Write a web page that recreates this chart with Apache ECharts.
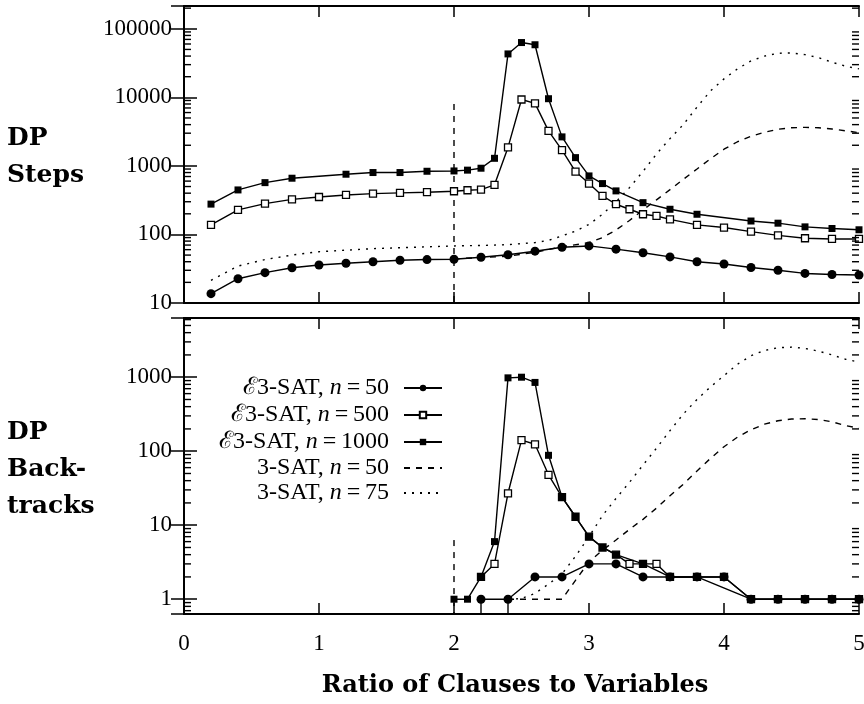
<!DOCTYPE html>
<html>
<head>
<meta charset="utf-8">
<script src="https://cdn.jsdelivr.net/npm/echarts@6/dist/echarts.min.js"></script>
<style>
  html, body { margin: 0; padding: 0; background: #fff; }
  #chart { width: 864px; height: 704px; }
</style>
</head>
<body>
<div id="chart"></div>
<script>
// ---- data ----
// DP steps (top panel)
const e50StepsX = [0.2,0.4,0.6,0.8,1.0,1.2,1.4,1.6,1.8,2.0,2.2,2.4,2.6,2.8,3.0,3.2,3.4,3.6,3.8,4.0,4.2,4.4,4.6,4.8,5.0];
const e50Steps  = [13.7,22.6,27.7,32.7,35.9,38,40,42,43,43.4,46.5,50.5,57,65,68,61,54,47,40,37,33,30,27,26,25.6];

const e500StepsX = [0.2,0.4,0.6,0.8,1.0,1.2,1.4,1.6,1.8,2.0,2.1,2.2,2.3,2.4,2.5,2.6,2.7,2.8,2.9,3.0,3.1,3.2,3.3,3.4,3.5,3.6,3.8,4.0,4.2,4.4,4.6,4.8,5.0];
const e500Steps  = [138,228,282,325,352,377,394,404,413,427,441,451,530,1860,9300,8150,3240,1700,826,552,365,276,233,197,186,166,138,126,110,97,88,86,86];

const e1000StepsX = [0.2,0.4,0.6,0.8,1.2,1.4,1.6,1.8,2.0,2.1,2.2,2.3,2.4,2.5,2.6,2.7,2.8,2.9,3.0,3.1,3.2,3.4,3.6,3.8,4.2,4.4,4.6,4.8,5.0];
const e1000Steps  = [277,446,570,661,756,800,800,835,844,867,925,1290,43000,63000,58500,9550,2650,1320,714,552,432,291,233,197,157,146,129,122,117];

const sat50StepsX = [2.0,2.2,2.4,2.6,2.8,3.0,3.1,3.2,3.3,3.4,3.5,3.6,3.7,3.8,3.9,4.0,4.1,4.2,4.3,4.4,4.5,4.6,4.7,4.8,4.9,5.0];
const sat50Steps  = [44,46,48,55,66,76,90,116,160,228,320,450,640,900,1270,1750,2250,2700,3100,3420,3600,3650,3600,3450,3250,3050];
const sat50StepsSpikeX = [2.0,2.0];
const sat50StepsSpike  = [8000,10];

const sat75StepsX = [0.2,0.4,0.6,0.8,1.0,1.2,1.4,1.6,1.8,2.0,2.2,2.4,2.6,2.7,2.8,2.9,3.0,3.1,3.2,3.3,3.4,3.5,3.6,3.7,3.8,3.9,4.0,4.1,4.2,4.3,4.4,4.5,4.6,4.7,4.8,4.9,5.0];
const sat75Steps  = [21.4,34.6,43,50,56,59,62,64,66,68,69,71,76,82,95,112,140,197,300,482,830,1490,2500,4040,7200,12400,18600,26000,34000,40000,44000,44500,42000,38000,32500,28500,26000];

// DP backtracks (bottom panel)
const e50BtX = [2.2,2.4,2.6,2.8,3.0,3.2,3.4,3.6,3.8,4.0,4.2,4.4,4.6,4.8,5.0];
const e50Bt  = [1,1,2,2,3,3,2,2,2,2,1,1,1,1,1];
const e50BtStemX = [2.2,2.4];   // short drops to the axis below these points

const e500BtX = [2.2,2.3,2.4,2.5,2.6,2.7,2.8,2.9,3.0,3.1,3.2,3.3,3.4,3.5,3.6,3.8,4.0,4.2,4.4,4.6,4.8,5.0];
const e500Bt  = [2,3,27,141,124,48,24,13,7,5,4,3,3,3,2,2,2,1,1,1,1,1];

const e1000BtX = [2.0,2.1,2.2,2.3,2.4,2.5,2.6,2.7,2.8,2.9,3.0,3.1,3.2,3.4,3.6,3.8,4.2,4.4,4.6,4.8,5.0];
const e1000Bt  = [1,1,2,6,980,1000,850,88,24,13,7,5,4,3,2,2,1,1,1,1,1];

const sat50BtX = [2.4,2.8,2.9,3.0,3.1,3.2,3.3,3.4,3.5,3.6,3.7,3.8,3.9,4.0,4.1,4.2,4.3,4.4,4.5,4.6,4.7,4.8,4.9,5.0];
const sat50Bt  = [1,1,1.8,3.2,4.6,6.3,8.8,12,17,25,36,54,80,115,155,195,232,258,272,275,268,250,222,205];
const sat50BtSpikeX = [2.0,2.0];
const sat50BtSpike  = [6.3,0.5];

const sat75BtX = [2.4,2.5,2.6,2.7,2.8,2.9,3.0,3.1,3.2,3.3,3.4,3.5,3.6,3.7,3.8,3.9,4.0,4.1,4.2,4.3,4.4,4.5,4.6,4.7,4.8,4.9,5.0];
const sat75Bt  = [1,1.02,1.2,1.6,2.2,3.8,7,13.5,23,38,65,110,190,320,500,740,1050,1500,1950,2300,2500,2550,2450,2250,2000,1750,1600];

const seriesNames = ['ℰ3-SAT, n=50', 'ℰ3-SAT, n=500', 'ℰ3-SAT, n=1000', '3-SAT, n=50', '3-SAT, n=75'];
const xTicks = [0, 1, 2, 3, 4, 5];

// axis ranges
const stepsRange = [10, 215000];
const btRange = [0.631, 6310];

let chart = echarts.init(document.getElementById('chart'));

const SERIF = '"Liberation Serif", "Times New Roman", serif';
const BOLD = '"DejaVu Serif", serif';

const zip = (xs, ys) => xs.map((x, i) => [x, ys[i]]);

// minor log ticks (2..9 per decade) inside the range
const minorValues = (range) => {
    let out = [];
    for (let e = -2; e <= 6; e++) {
        for (let m = 2; m <= 9; m++) {
            let v = m * Math.pow(10, e);
            if (v > range[0] && v < range[1]) out.push(v);
        }
    }
    return out;
};

const powerLabel = v => {
    let e = Math.log10(v);
    return Math.abs(e - Math.round(e)) < 1e-6 ? String(Math.round(v)) : '';
};

// one custom series per border side; dir = +1 ticks point right, -1 left
const minorTickSeries = (g, range, xAt, dir) => ({
    type: 'custom',
    xAxisIndex: g * 2,
    yAxisIndex: g * 2,
    silent: true,
    clip: false,
    z: 6,
    data: minorValues(range).map(v => [xAt, v]),
    renderItem: (params, api) => {
        let p = api.coord([xAt, api.value(1)]);
        return {
            type: 'line',
            shape: {x1: p[0], y1: p[1], x2: p[0] + dir * 7, y2: p[1]},
            style: {stroke: '#000', lineWidth: 1.4}
        };
    }
});

const xAxisBase = (grid, pos, showLabel) => ({
    type: 'value',
    gridIndex: grid,
    position: pos,
    min: xTicks[0],
    max: xTicks[xTicks.length - 1],
    interval: 1,
    axisLine: {show: true, onZero: false, lineStyle: {color: '#000', width: 2}},
    axisTick: {show: true, inside: true, length: 11, lineStyle: {color: '#000', width: 1.5}},
    axisLabel: {show: showLabel, color: '#000', fontFamily: SERIF, fontSize: 23, margin: 18},
    splitLine: {show: false}
});

const yAxisBase = (grid, pos, range, showLabel) => ({
    type: 'log',
    logBase: 10,
    gridIndex: grid,
    position: pos,
    min: range[0],
    max: range[1],
    axisLine: {show: true, lineStyle: {color: '#000', width: 2}},
    axisTick: {show: true, inside: true, length: 13, lineStyle: {color: '#000', width: 1.5}},
    axisLabel: {show: showLabel, color: '#000', fontFamily: SERIF, fontSize: 23, margin: 12, formatter: powerLabel},
    splitLine: {show: false}
});

const lineStyleOf = type => ({color: '#000', width: 1.4, type: type});

const circleSeries = (name, data, g) => ({
    name, type: 'line', data, xAxisIndex: g * 2, yAxisIndex: g * 2,
    symbol: 'circle', symbolSize: 9,
    itemStyle: {color: '#000'}, lineStyle: lineStyleOf('solid'), z: 4
});
const openSquareSeries = (name, data, g) => ({
    name, type: 'line', data, xAxisIndex: g * 2, yAxisIndex: g * 2,
    symbol: 'rect', symbolSize: 7,
    itemStyle: {color: '#fff', borderColor: '#000', borderWidth: 1.3}, lineStyle: lineStyleOf('solid'), z: 3
});
const filledSquareSeries = (name, data, g) => ({
    name, type: 'line', data, xAxisIndex: g * 2, yAxisIndex: g * 2,
    symbol: 'rect', symbolSize: 7,
    itemStyle: {color: '#000'}, lineStyle: lineStyleOf('solid'), z: 5
});
const plainSeries = (name, data, g, type) => ({
    name, type: 'line', data, xAxisIndex: g * 2, yAxisIndex: g * 2,
    symbol: 'none', showSymbol: false,
    itemStyle: {color: '#000'}, lineStyle: lineStyleOf(type), z: 2
});

const dashPattern = [6, 6];
const dotPattern = [2, 6];

let series = [
    // top panel
    circleSeries(seriesNames[0], zip(e50StepsX, e50Steps), 0),
    openSquareSeries(seriesNames[1], zip(e500StepsX, e500Steps), 0),
    filledSquareSeries(seriesNames[2], zip(e1000StepsX, e1000Steps), 0),
    plainSeries(seriesNames[3], zip(sat50StepsX, sat50Steps), 0, dashPattern),
    plainSeries(seriesNames[3], zip(sat50StepsSpikeX, sat50StepsSpike), 0, dashPattern),
    plainSeries(seriesNames[4], zip(sat75StepsX, sat75Steps), 0, dotPattern),
    // bottom panel
    circleSeries(seriesNames[0], zip(e50BtX, e50Bt), 1),
    openSquareSeries(seriesNames[1], zip(e500BtX, e500Bt), 1),
    filledSquareSeries(seriesNames[2], zip(e1000BtX, e1000Bt), 1),
    plainSeries(seriesNames[3], zip(sat50BtX, sat50Bt), 1, dashPattern),
    plainSeries(seriesNames[3], zip(sat50BtSpikeX, sat50BtSpike), 1, dashPattern),
    plainSeries(seriesNames[4], zip(sat75BtX, sat75Bt), 1, dotPattern),
    // log minor ticks on both vertical borders
    minorTickSeries(0, stepsRange, xTicks[0], 1),
    minorTickSeries(0, stepsRange, xTicks[xTicks.length - 1], -1),
    minorTickSeries(1, btRange, xTicks[0], 1),
    minorTickSeries(1, btRange, xTicks[xTicks.length - 1], -1)
];

// drops from the n=50 points to the axis
e50BtStemX.forEach(x => {
    series.push(plainSeries(seriesNames[0], [[x, e50Bt[e50BtX.indexOf(x)]], [x, btRange[0] * 0.8]], 1, 'solid'));
});

// legend: one block per row, icons right-aligned
const legendRowsTop = [376, 403, 430, 456, 481];
let legend = seriesNames.map((name, i) => ({
    data: [name],
    right: 421,
    top: legendRowsTop[i],
    align: 'right',
    orient: 'vertical',
    padding: 0,
    itemWidth: 38,
    itemHeight: 8,
    selectedMode: false,
    itemStyle: i >= 3 ? {opacity: 0} : {},
    formatter: n => {
        let parts = n.split('n=');
        return '{r|' + parts[0] + '}{i|n}{r|\u2009=\u2009' + parts[1] + '}';
    },
    textStyle: {
        padding: [0, 10, 0, 0],
        rich: {
            r: {fontFamily: SERIF, fontSize: 24, color: '#000'},
            i: {fontFamily: SERIF, fontSize: 24, fontStyle: 'italic', color: '#000'}
        }
    }
}));

let option = {
    animation: false,
    backgroundColor: '#fff',
    grid: [
        {left: 184, right: 5, top: 6, height: 297, outerBoundsMode: 'none'},
        {left: 184, right: 5, top: 318, height: 296, outerBoundsMode: 'none'}
    ],
    xAxis: [
        xAxisBase(0, 'bottom', false),
        xAxisBase(0, 'top', false),
        xAxisBase(1, 'bottom', true),
        xAxisBase(1, 'top', false)
    ],
    yAxis: [
        yAxisBase(0, 'left', stepsRange, true),
        yAxisBase(0, 'right', stepsRange, false),
        yAxisBase(1, 'left', btRange, true),
        yAxisBase(1, 'right', btRange, false)
    ],
    legend,
    graphic: [
        {type: 'text', left: 7, top: 120,
            style: {text: 'DP\nSteps', font: 'bold 25px ' + BOLD, lineHeight: 37, fill: '#000'}},
        {type: 'text', left: 7, top: 414,
            style: {text: 'DP\nBack-\ntracks', font: 'bold 25px ' + BOLD, lineHeight: 37, fill: '#000'}},
        {type: 'text', x: 515, y: 686,
            style: {text: 'Ratio of Clauses to Variables', font: 'bold 24px ' + BOLD,
                align: 'center', verticalAlign: 'middle', fill: '#000'}}
    ],
    series
};

chart.setOption(option);
</script>
</body>
</html>
